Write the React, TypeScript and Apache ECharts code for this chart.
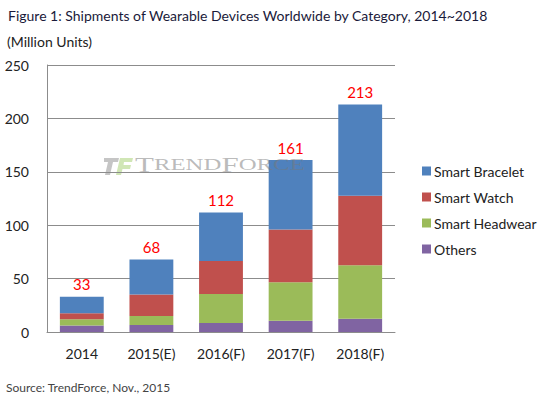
import React, { useEffect, useRef } from "react";
import * as echarts from "echarts";

const categories = ["2014", "2015(E)", "2016(F)", "2017(F)", "2018(F)"];
const others = [6, 6.5, 8.5, 10.5, 12.5];
const smartHeadwear = [6, 8.5, 27, 36, 50];
const smartWatch = [5.5, 20, 31, 49.5, 65];
const smartBracelet = [15.5, 33, 45.5, 65, 85.5];
const totals = [33, 68, 112, 161, 213];
const yTicks = { min: 0, max: 250, interval: 50 };

const FONT = "Lato, 'Noto Sans', sans-serif";
const SERIF = "'Liberation Serif', 'DejaVu Serif', serif";

export default function App() {
  const ref = useRef<HTMLDivElement>(null);
  useEffect(() => {
    if (!ref.current) return;
    const chart = echarts.init(ref.current, undefined, { renderer: "svg" });
    const gridColor = "#8c8c8c";
    chart.setOption({
      animation: false,
      textStyle: { fontFamily: FONT },
      title: [
        {
          text: "Figure 1: Shipments of Wearable Devices Worldwide by Category, 2014~2018",
          left: 3,
          top: 3,
          textStyle: { fontFamily: FONT, fontSize: 14, fontWeight: "normal", color: "#1a1a3a" },
        },
        {
          text: "(Million Units)",
          left: 2,
          top: 29,
          textStyle: { fontFamily: FONT, fontSize: 14, fontWeight: "normal", color: "#222" },
        },
        {
          text: "Source: TrendForce, Nov., 2015",
          left: 1,
          top: 376,
          textStyle: { fontFamily: FONT, fontSize: 12, fontWeight: "normal", color: "#444" },
        },
      ],
      grid: { left: 47, right: 155, top: 65, bottom: 65 },
      legend: {
        orient: "vertical",
        left: 417,
        top: 159,
        itemWidth: 9,
        itemHeight: 9,
        itemGap: 12,
        icon: "rect",
        data: ["Smart Bracelet", "Smart Watch", "Smart Headwear", "Others"],
        textStyle: { fontFamily: FONT, fontSize: 14, color: "#222", lineHeight: 14, padding: [0, 0, 0, -2] },
      },
      xAxis: {
        type: "category",
        data: categories,
        axisLine: { lineStyle: { color: gridColor } },
        axisTick: { show: false },
        axisLabel: { fontFamily: FONT, fontSize: 14, color: "#222", margin: 14 },
      },
      yAxis: {
        type: "value",
        min: yTicks.min,
        max: yTicks.max,
        interval: yTicks.interval,
        axisLine: { show: true, lineStyle: { color: gridColor } },
        axisTick: { show: false },
        splitLine: { lineStyle: { color: gridColor } },
        axisLabel: { fontFamily: FONT, fontSize: 14, color: "#222", margin: 18 },
      },
      series: [
        { name: "Others", type: "bar", stack: "t", data: others, barWidth: "63%", itemStyle: { color: "#8064A2" } },
        { name: "Smart Headwear", type: "bar", stack: "t", data: smartHeadwear, itemStyle: { color: "#9BBB59" } },
        { name: "Smart Watch", type: "bar", stack: "t", data: smartWatch, itemStyle: { color: "#C0504D" } },
        {
          name: "Smart Bracelet",
          type: "bar",
          stack: "t",
          data: smartBracelet,
          itemStyle: { color: "#4F81BD" },
          label: {
            show: true,
            position: "top",
            distance: 5,
            formatter: (p: any) => String(totals[p.dataIndex]),
            color: "#FF0000",
            fontFamily: FONT,
            fontSize: 15,
          },
        },
      ],
      graphic: [
        {
          type: "group",
          left: 104,
          top: 158,
          z: 100,
          children: [
            {
              type: "polygon",
              shape: { points: [[0, 0], [15, 0], [14, 4], [9, 4], [6, 17], [1, 17], [4, 4], [0, 4]] },
              style: { fill: "rgba(150,150,150,0.55)" },
            },
            {
              type: "polygon",
              shape: { points: [[16, 0], [29, 0], [28, 4], [20, 4], [19.5, 7], [27, 7], [26, 11], [18.5, 11], [17, 17], [12, 17]] },
              style: { fill: "rgba(170,210,120,0.55)" },
            },
          ],
        },
        {
          type: "text",
          x: 135,
          y: 155,
          scaleX: 1.55,
          z: 100,
          style: {
            text: "{b|T}{s|REND}{b|F}{s|ORCE}",
            rich: {
              b: { fontFamily: SERIF, fontSize: 20, fill: "rgba(120,120,120,0.5)" },
              s: { fontFamily: SERIF, fontSize: 16, fill: "rgba(120,120,120,0.5)" },
            },
          },
        },
      ],
    });
    return () => chart.dispose();
  }, []);
  return <div ref={ref} style={{ position: "absolute", left: 0, top: 0, width: 550, height: 397 }} />;
}
